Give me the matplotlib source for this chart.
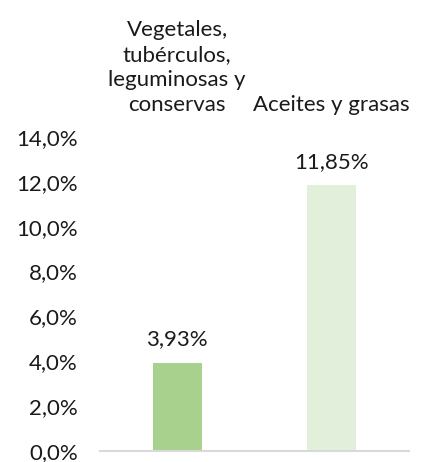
import numpy as np
import matplotlib.pyplot as plt
from matplotlib.ticker import FuncFormatter

categories = ["Vegetales,\ntubérculos,\nleguminosas y\nconservas", "Aceites y grasas"]
values = [3.93, 11.85]
value_labels = ["3,93%", "11,85%"]
bar_colors = ["#A9D18E", "#E2EFDA"]

plt.rcParams['font.family'] = ['Lato', 'DejaVu Sans']

W, H = 425, 462
fig = plt.figure(figsize=(W / 100, H / 100), dpi=100)
ax = fig.add_axes([100 / W, 1 - 451 / H, 309 / W, (451 - 137) / H])

x = np.arange(len(categories))
bars = ax.bar(x, values, 0.32, color=bar_colors)

ax.set_xlim(-0.5, 1.5)
ax.set_ylim(0, 14)
ax.set_yticks(np.arange(0, 15, 2))
ax.yaxis.set_major_formatter(FuncFormatter(lambda v, _: f"{v:.1f}%".replace(".", ",")))
ax.tick_params(axis='y', length=0, pad=16, labelsize=16, labelcolor='#1a1a1a')

ax.xaxis.tick_top()
ax.set_xticks(x)
ax.set_xticklabels(categories, fontsize=16, color='#1a1a1a', linespacing=1.3)
ax.tick_params(axis='x', length=0, pad=16)

for s in ['top', 'left', 'right']:
    ax.spines[s].set_visible(False)
ax.spines['bottom'].set_color('#D9D9D9')
ax.spines['bottom'].set_linewidth(1.5)

for b, lab in zip(bars, value_labels):
    ax.annotate(lab, xy=(b.get_x() + b.get_width() / 2, b.get_height()),
                xytext=(0, 17), textcoords='offset points',
                ha='center', va='center', fontsize=16, color='#1a1a1a')

fig.savefig("out.png", dpi=100)
